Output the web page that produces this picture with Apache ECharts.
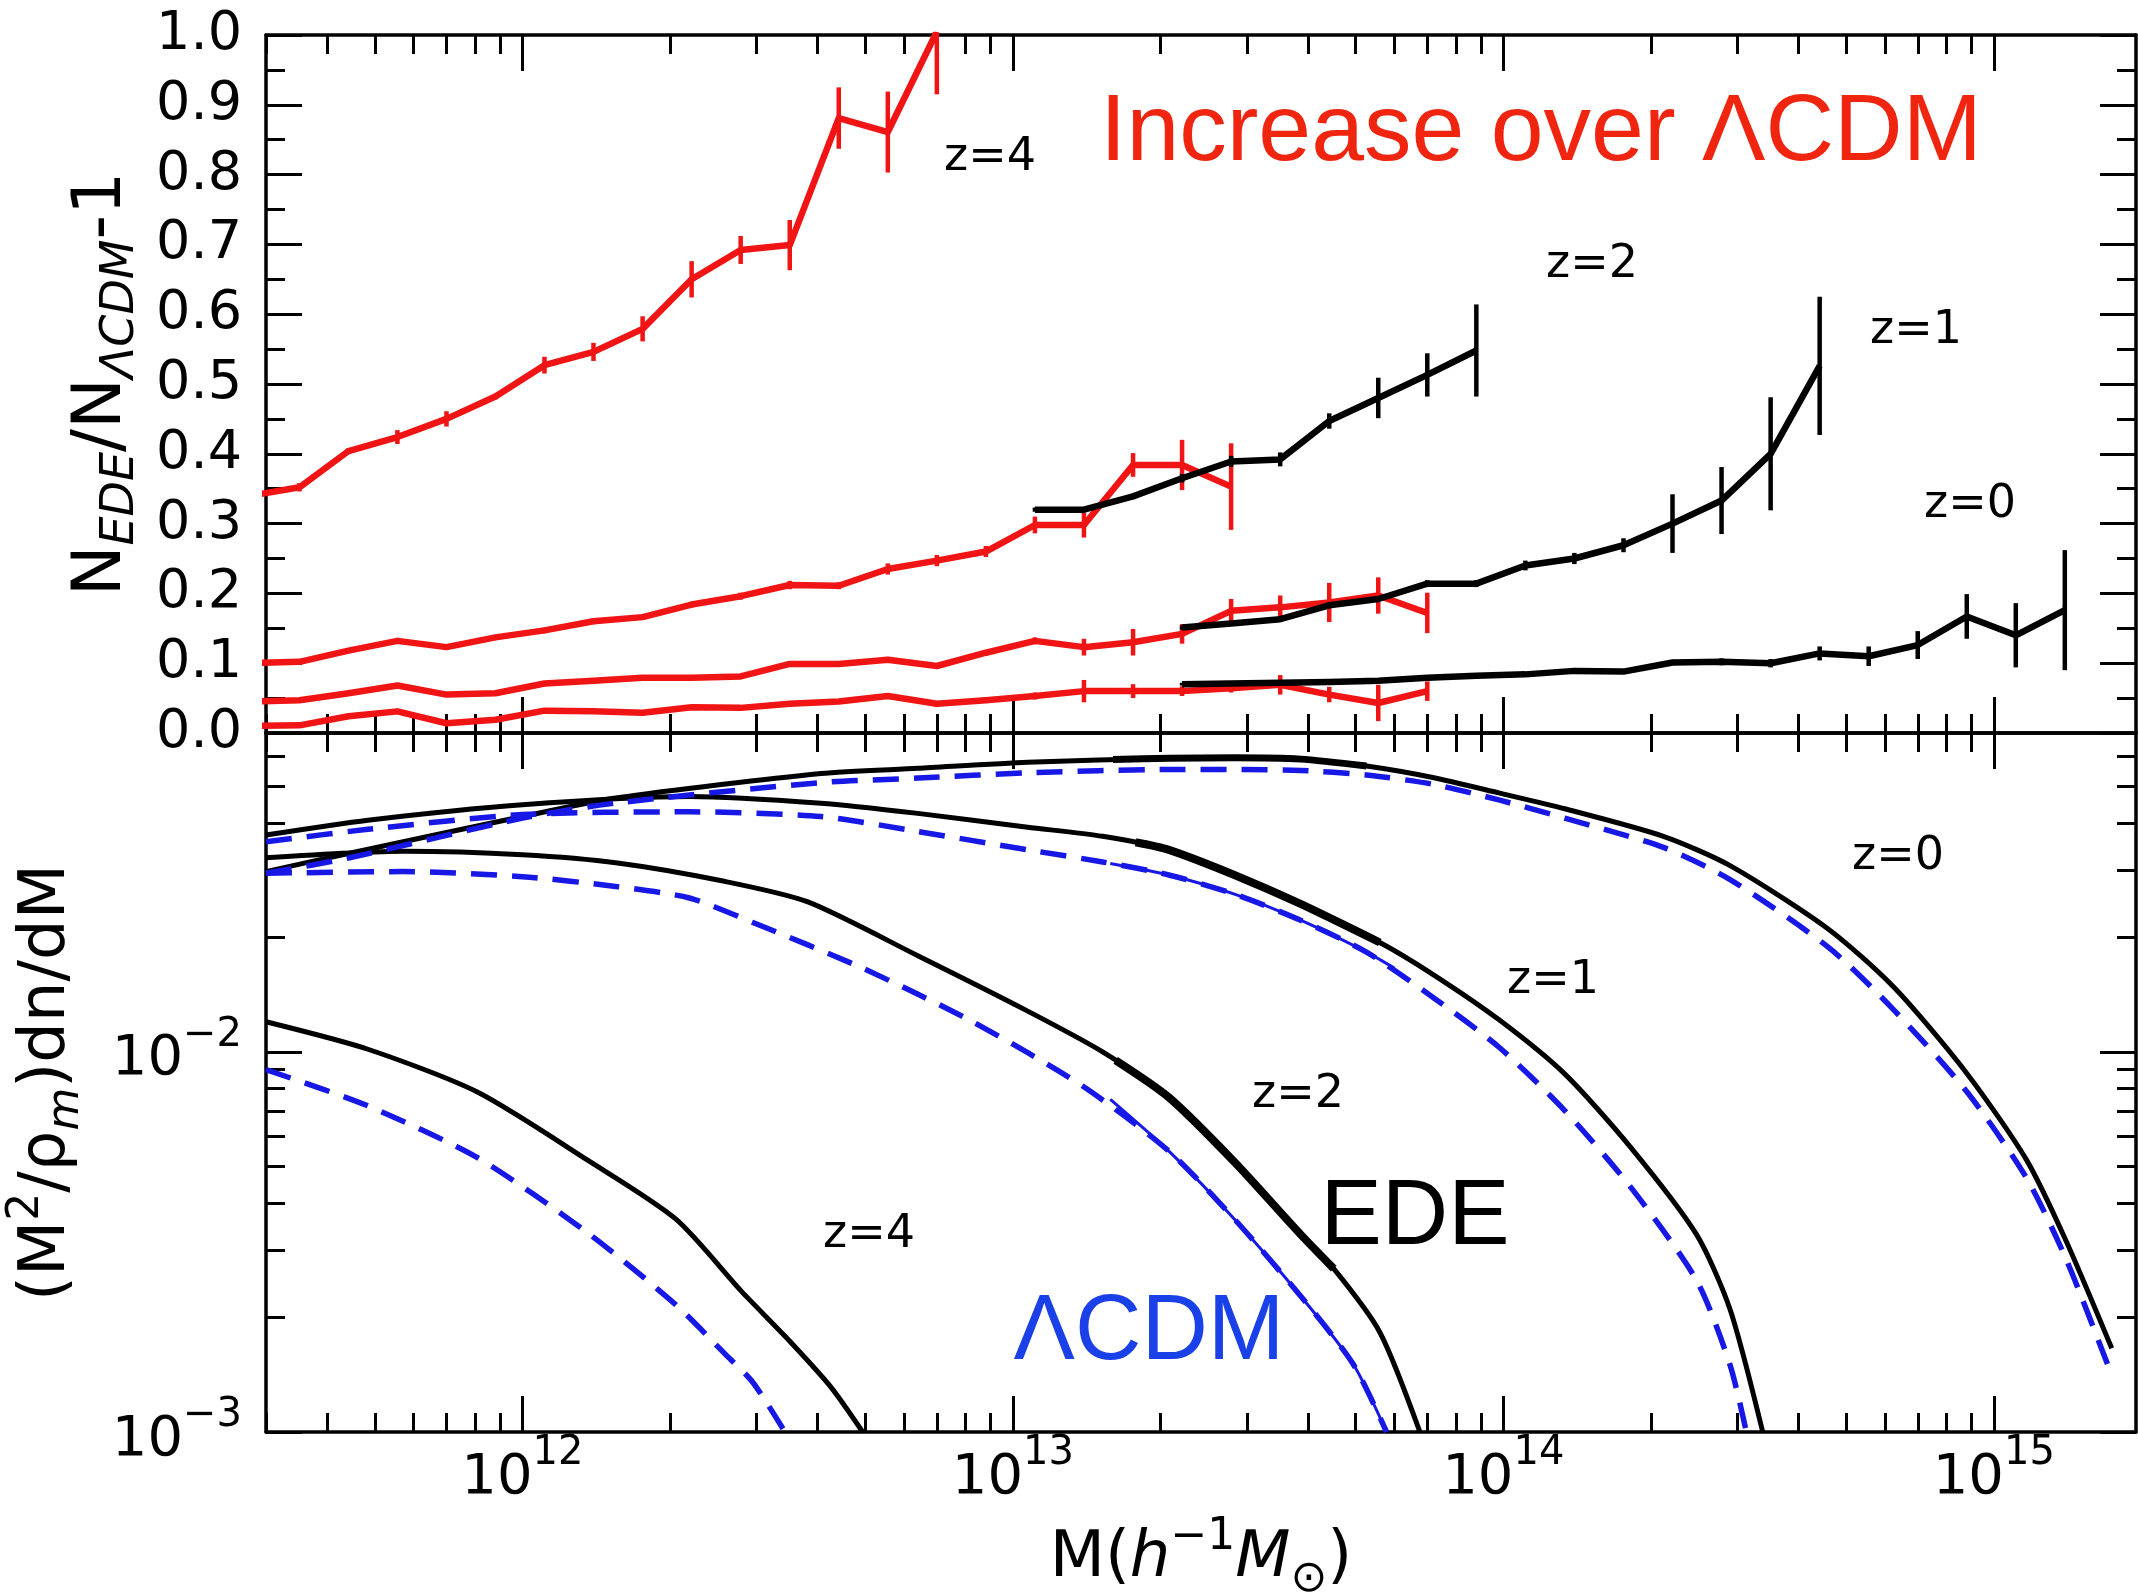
<!DOCTYPE html>
<html><head><meta charset="utf-8">
<script src="https://cdn.jsdelivr.net/npm/echarts@6.0.0/dist/echarts.min.js"></script>
<style>html,body{margin:0;padding:0;background:#fff;}#c{width:2138px;height:1595px;}</style>
</head><body><div id="c"></div><script>
// ---------------- axis ranges / ticks ----------------
const XMIN = 3.0e11, XMAX = 1.95e15;
const X_MAJOR = [1e12, 1e13, 1e14, 1e15];
const X_MINOR = [3e11,4e11,5e11,6e11,7e11,8e11,9e11,2e12,3e12,4e12,5e12,6e12,7e12,8e12,9e12,2e13,3e13,4e13,5e13,6e13,7e13,8e13,9e13,2e14,3e14,4e14,5e14,6e14,7e14,8e14,9e14];
const YTOP_MIN = 0, YTOP_MAX = 1.0, YTOP_STEP = 0.1;
const YLOW_MIN = 1e-3, YLOW_MAX = 0.069;
const YLOW_MAJOR = [1e-3, 1e-2];
const YLOW_MINOR = [2e-3,3e-3,4e-3,5e-3,6e-3,7e-3,8e-3,9e-3,2e-2,3e-2,4e-2,5e-2,6e-2];

// ---------------- upper panel: N_EDE/N_LCDM - 1 ----------------
const binMass = [2.79e11,3.51e11,4.42e11,5.56e11,7.00e11,8.81e11,1.109e12,1.396e12,1.758e12,2.213e12,2.786e12,3.508e12,4.416e12,5.559e12,6.998e12,8.81e12,1.109e13,1.396e13,1.758e13,2.213e13,2.786e13,3.508e13,4.416e13,5.559e13,6.998e13,8.81e13,1.109e14,1.396e14,1.758e14,2.213e14,2.786e14,3.508e14,4.416e14,5.559e14,6.998e14,8.81e14,1.109e15,1.396e15];

const redZ4Start = 0;
const redZ4 = [0.340,0.352,0.404,0.424,0.450,0.482,0.527,0.546,0.579,0.650,0.692,0.699,0.881,0.861,1.005];
const redZ4Err = [0,0.006,0.004,0.010,0.011,0.004,0.012,0.013,0.018,0.026,0.020,0.036,0.044,0.058,0.090];

const redZ2Start = 0;
const redZ2 = [0.100,0.102,0.118,0.132,0.123,0.137,0.147,0.160,0.166,0.184,0.196,0.212,0.211,0.235,0.247,0.260,0.298,0.298,0.384,0.384,0.353];
const redZ2Err = [0,0.003,0.003,0.003,0.003,0.003,0.004,0.004,0.004,0.004,0.005,0.006,0.005,0.008,0.008,0.008,0.012,0.018,0.017,0.036,0.062];

const redZ1Start = 0;
const redZ1 = [0.045,0.047,0.057,0.068,0.055,0.057,0.071,0.075,0.079,0.079,0.081,0.099,0.099,0.105,0.096,0.115,0.132,0.123,0.130,0.142,0.175,0.180,0.187,0.197,0.172];
const redZ1Err = [0,0.002,0.002,0.002,0.002,0.002,0.002,0.003,0.003,0.003,0.003,0.003,0.003,0.004,0.004,0.004,0.005,0.012,0.019,0.014,0.017,0.017,0.028,0.026,0.029];

const redZ0Start = 0;
const redZ0 = [0.010,0.011,0.024,0.031,0.014,0.019,0.032,0.031,0.029,0.037,0.036,0.042,0.045,0.053,0.042,0.047,0.053,0.060,0.060,0.060,0.064,0.069,0.055,0.043,0.060];
const redZ0Err = [0,0.002,0.002,0.002,0.002,0.002,0.002,0.002,0.002,0.002,0.002,0.003,0.003,0.003,0.004,0.004,0.005,0.016,0.010,0.007,0.006,0.014,0.011,0.026,0.014];

const blkZ2Start = 16;
const blkZ2 = [0.320,0.320,0.339,0.365,0.389,0.392,0.447,0.480,0.513,0.548];
const blkZ2Err = [0.003,0.003,0.004,0.006,0.008,0.010,0.011,0.029,0.031,0.066];

const blkZ1Start = 19;
const blkZ1 = [0.151,0.157,0.163,0.183,0.192,0.214,0.214,0.240,0.250,0.269,0.300,0.333,0.400,0.526];
const blkZ1Err = [0.003,0.003,0.004,0.004,0.004,0.005,0.005,0.007,0.008,0.010,0.042,0.048,0.081,0.099];

const blkZ0Start = 19;
const blkZ0 = [0.070,0.071,0.072,0.073,0.075,0.079,0.082,0.084,0.089,0.088,0.101,0.102,0.100,0.114,0.110,0.126,0.167,0.140,0.176];
const blkZ0Err = [0.002,0.002,0.002,0.002,0.002,0.002,0.003,0.003,0.003,0.003,0.003,0.005,0.006,0.010,0.014,0.020,0.032,0.046,0.086];

// ---------------- lower panel: (M^2/rho_m) dn/dM ----------------
const edeZ0M = [3.0e11,4.44e11,1.0e12,1.563e12,4.06e12,6.40e12,1.072e13,2.08e13,2.83e13,3.86e13,5.26e13,7.18e13,9.79e13,1.334e14,2.12e14,2.90e14,4.61e14,6.28e14,8.83e14,1.167e15,1.406e15,1.74e15];
const edeZ0 = [0.0298,0.0333,0.0416,0.0466,0.0540,0.0557,0.0578,0.0592,0.0594,0.0589,0.0565,0.0527,0.0480,0.0436,0.0369,0.0309,0.0210,0.01472,0.00875,0.00519,0.00317,0.00166];
const lcdmZ0M = [3.0e11,4.44e11,1.0e12,1.563e12,4.06e12,6.40e12,1.072e13,2.08e13,2.83e13,3.86e13,5.26e13,7.18e13,9.79e13,1.334e14,2.12e14,2.90e14,4.61e14,6.28e14,8.83e14,1.167e15,1.406e15,1.74e15];
const lcdmZ0 = [0.0295,0.0324,0.0412,0.0452,0.0511,0.0525,0.0542,0.0553,0.0553,0.0550,0.0535,0.0506,0.0460,0.0412,0.0345,0.0284,0.0188,0.01282,0.00783,0.00465,0.00284,0.00141];

const edeZ1M = [3.0e11,4.84e11,1.0e12,2.19e12,4.06e12,6.40e12,1.072e13,1.524e13,2.08e13,2.83e13,3.86e13,5.60e13,7.18e13,9.79e13,1.334e14,1.82e14,2.48e14,2.90e14,3.38e14];
const edeZ1 = [0.0372,0.0407,0.0447,0.0470,0.0451,0.0424,0.0390,0.0369,0.0340,0.0292,0.0245,0.0194,0.0160,0.01216,0.00875,0.00560,0.00330,0.00210,0.00100];
const lcdmZ1M = [3.0e11,4.84e11,1.0e12,2.19e12,4.06e12,6.40e12,1.072e13,1.524e13,2.08e13,2.83e13,3.86e13,5.26e13,7.18e13,9.79e13,1.334e14,1.82e14,2.48e14,2.90e14,3.13e14];
const lcdmZ1 = [0.0357,0.0385,0.0421,0.0428,0.0416,0.0380,0.0340,0.0316,0.0292,0.0260,0.0222,0.0183,0.01393,0.0103,0.00701,0.00440,0.00250,0.00150,0.00100];

const edeZ2M = [3.0e11,5.71e11,1.0e12,1.563e12,2.58e12,3.82e12,6.40e12,1.072e13,1.524e13,2.08e13,2.83e13,3.86e13,4.51e13,5.60e13,6.76e13];
const edeZ2 = [0.0324,0.0337,0.0330,0.0314,0.0281,0.0248,0.0179,0.0128,0.0100,0.00759,0.00513,0.00331,0.00269,0.00183,0.00100];
const lcdmZ2M = [3.0e11,5.71e11,1.0e12,1.563e12,2.19e12,2.95e12,4.94e12,8.28e12,1.387e13,2.08e13,2.83e13,3.86e13,4.94e13,5.78e13];
const lcdmZ2 = [0.0295,0.0298,0.0289,0.0272,0.0254,0.0219,0.0166,0.0120,0.00813,0.00548,0.00363,0.00228,0.00151,0.00100];

const edeZ4M = [3.0e11,4.84e11,8.11e11,1.358e12,2.056e12,2.80e12,3.44e12,4.24e12,4.94e12];
const edeZ4 = [0.0120,0.01016,0.00783,0.00519,0.00363,0.00234,0.00178,0.00132,0.00100];
const lcdmZ4M = [3.0e11,4.84e11,8.11e11,1.358e12,2.056e12,2.594e12,2.951e12,3.43e12];
const lcdmZ4 = [0.00898,0.00721,0.00526,0.00334,0.00216,0.00160,0.00135,0.00100];

// simulation overlays
const simEdeZ0M = [1.6e13,2.08e13,2.83e13,3.86e13,5.26e13];
const simEdeZ0 = [0.0588,0.0592,0.0594,0.0589,0.0565];
const simEdeZ1M = [1.78e13,2.08e13,2.83e13,3.86e13,5.60e13];
const simEdeZ1 = [0.0356,0.0340,0.0292,0.0245,0.0194];
const simEdeZ2M = [1.62e13,2.08e13,2.83e13,3.86e13,4.51e13];
const simEdeZ2 = [0.0095,0.00759,0.00513,0.00331,0.00269];
const simLcdmZ1M = [1.58e13,2.08e13,2.83e13,3.86e13,5.26e13,6.0e13];
const simLcdmZ1 = [0.0313,0.0292,0.0260,0.0222,0.0183,0.0166];
const simLcdmZ2M = [1.58e13,2.08e13,2.83e13,3.86e13,4.94e13,5.78e13];
const simLcdmZ2 = [0.0075,0.00548,0.00363,0.00228,0.00151,0.00100];

// ---------------- styling ----------------
const FONT = "'DejaVu Sans', sans-serif";
const SANS = "'Liberation Sans', Arial, sans-serif";
const RED = '#f01414', BLACK = '#000000', BLUE = '#1818e6';
const TICK = {color:'#000', width:3};
const SPINE = {color:'#000', width:3.5};

function pairs(xs, ys){ return ys.map((v,i)=>[xs[i], v]); }
function line(xs, ys, color, width, xi, yi, type, z, smooth){
  return {type:'line', xAxisIndex:xi, yAxisIndex:yi, data:pairs(xs,ys), showSymbol:false, symbol:'none',
    clip:true, silent:true, z:z||2, smooth:smooth||false,
    lineStyle:{color, width, type:type||'solid', cap:'butt', join:'round'}};
}
function errbars(xs, ys, es, color, xi, yi, z){
  return {type:'custom', xAxisIndex:xi, yAxisIndex:yi, clip:true, silent:true, z:z||3,
    data: ys.map((v,i)=>[xs[i], v, es[i]]), encode:{x:0, y:1},
    renderItem:function(params, api){
      const x = api.value(0), y = api.value(1), e = api.value(2);
      if (!(e > 0)) return null;
      const a = api.coord([x, y - e]), b = api.coord([x, y + e]);
      return {type:'line', shape:{x1:a[0], y1:a[1], x2:b[0], y2:b[1]}, style:{stroke:color, lineWidth:4.5}};
    }};
}
function binsFrom(start, vals){ return binMass.slice(start, start + vals.length); }

function logX(grid, pos, vals, len, extra){
  return Object.assign({
    type:'log', logBase:10, gridIndex:grid, position:pos, min:XMIN, max:XMAX,
    axisLine:{show:false, onZero:false}, splitLine:{show:false},
    axisTick:{show:true, inside:true, length:len, customValues:vals, lineStyle:TICK},
    axisLabel:{show:false}
  }, extra||{});
}
function logY(grid, pos, vals, len, extra){
  return Object.assign({
    type:'log', logBase:10, gridIndex:grid, position:pos, min:YLOW_MIN, max:YLOW_MAX,
    axisLine:{show:false, onZero:false}, splitLine:{show:false},
    axisTick:{show:true, inside:true, length:len, customValues:vals, lineStyle:TICK},
    axisLabel:{show:false}
  }, extra||{});
}
function linY(pos, extra){
  return Object.assign({
    type:'value', gridIndex:0, position:pos, min:YTOP_MIN, max:YTOP_MAX, interval:YTOP_STEP,
    axisLine:{show:true, onZero:false, lineStyle:SPINE}, splitLine:{show:false},
    axisTick:{show:true, inside:true, length:36, lineStyle:TICK},
    minorTick:{show:true, splitNumber:2, length:19, lineStyle:TICK}, minorSplitLine:{show:false},
    axisLabel:{show:false}
  }, extra||{});
}
const spine = {axisLine:{show:true, onZero:false, lineStyle:SPINE}};
const expRich = {
  b:{fontSize:56, fontFamily:FONT, color:'#000', verticalAlign:'bottom', lineHeight:72},
  s:{fontSize:40, fontFamily:FONT, color:'#000', verticalAlign:'top', lineHeight:72}
};
function expFmt(v){ const e = Math.round(Math.log10(v)); return '{b|10}{s|' + String(e).replace('-', '\u2212') + '}'; }

const DASH = [26, 15];
const SM = 0.25;
const option = {
  animation:false,
  backgroundColor:'#ffffff',
  grid:[
    {left:266, top:35, width:1870, height:698, outerBoundsMode:'none', containLabel:false},
    {left:266, top:733, width:1870, height:699, outerBoundsMode:'none', containLabel:false}
  ],
  xAxis:[
    logX(0,'bottom',X_MAJOR,36,spine),
    logX(0,'bottom',X_MINOR,19),
    logX(0,'top',X_MAJOR,36,spine),
    logX(0,'top',X_MINOR,19),
    logX(1,'top',X_MAJOR,36,spine),
    logX(1,'top',X_MINOR,19),
    logX(1,'bottom',X_MAJOR,36,{
      axisLine:{show:true, onZero:false, lineStyle:SPINE},
      axisLabel:{show:true, customValues:X_MAJOR, formatter:expFmt, rich:expRich, margin:2},
      name:'{n|M(}{i|h}{p|\u22121}{i|M}{s|\u2299}{n|)}', nameLocation:'middle', nameGap:84,
      nameTextStyle:{rich:{
        n:{fontSize:64, fontFamily:FONT, color:'#000', verticalAlign:'middle', lineHeight:86},
        i:{fontSize:64, fontFamily:FONT, fontStyle:'italic', color:'#000', verticalAlign:'middle', lineHeight:86},
        p:{fontSize:44, fontFamily:FONT, color:'#000', verticalAlign:'top', lineHeight:86},
        s:{fontSize:44, fontFamily:FONT, color:'#000', verticalAlign:'bottom', lineHeight:86}
      }}
    }),
    logX(1,'bottom',X_MINOR,19)
  ],
  yAxis:[
    linY('left', {
      axisLabel:{show:true, formatter:v=>v.toFixed(1), fontSize:54, fontFamily:FONT, color:'#000', margin:24},
      name:'{n|N}{s|EDE}{n|/N}{s|\u039BCDM}{n|-1}', nameLocation:'middle', nameGap:122, nameRotate:90,
      nameTextStyle:{rich:{
        n:{fontSize:68, fontFamily:FONT, color:'#000', verticalAlign:'middle', lineHeight:84},
        s:{fontSize:46, fontFamily:FONT, fontStyle:'italic', color:'#000', verticalAlign:'bottom', lineHeight:84}
      }}
    }),
    linY('right'),
    logY(1,'left',YLOW_MAJOR,36,{
      axisLine:{show:true, onZero:false, lineStyle:SPINE},
      axisLabel:{show:true, customValues:YLOW_MAJOR, formatter:expFmt, rich:expRich, margin:24},
      name:'{n|(M}{p|2}{n|/\u03C1}{s|m}{n|)dn/dM}', nameLocation:'middle', nameGap:177, nameRotate:90,
      nameTextStyle:{rich:{
        n:{fontSize:64, fontFamily:FONT, color:'#000', verticalAlign:'middle', lineHeight:84},
        p:{fontSize:44, fontFamily:FONT, color:'#000', verticalAlign:'top', lineHeight:84},
        s:{fontSize:44, fontFamily:FONT, fontStyle:'italic', color:'#000', verticalAlign:'bottom', lineHeight:84}
      }}
    }),
    logY(1,'left',YLOW_MINOR,19),
    logY(1,'right',YLOW_MAJOR,36,spine),
    logY(1,'right',YLOW_MINOR,19)
  ],
  series:[
    // upper panel (xAxis 0, yAxis 0)
    line(binsFrom(redZ4Start,redZ4), redZ4, RED, 6.5, 0, 0),
    errbars(binsFrom(redZ4Start,redZ4), redZ4, redZ4Err, RED, 0, 0),
    line(binsFrom(redZ2Start,redZ2), redZ2, RED, 6.5, 0, 0),
    errbars(binsFrom(redZ2Start,redZ2), redZ2, redZ2Err, RED, 0, 0),
    line(binsFrom(redZ1Start,redZ1), redZ1, RED, 6.5, 0, 0),
    errbars(binsFrom(redZ1Start,redZ1), redZ1, redZ1Err, RED, 0, 0),
    line(binsFrom(redZ0Start,redZ0), redZ0, RED, 6.5, 0, 0),
    errbars(binsFrom(redZ0Start,redZ0), redZ0, redZ0Err, RED, 0, 0),
    line(binsFrom(blkZ2Start,blkZ2), blkZ2, BLACK, 6.5, 0, 0, 'solid', 4),
    errbars(binsFrom(blkZ2Start,blkZ2), blkZ2, blkZ2Err, BLACK, 0, 0, 5),
    line(binsFrom(blkZ1Start,blkZ1), blkZ1, BLACK, 6.5, 0, 0, 'solid', 4),
    errbars(binsFrom(blkZ1Start,blkZ1), blkZ1, blkZ1Err, BLACK, 0, 0, 5),
    line(binsFrom(blkZ0Start,blkZ0), blkZ0, BLACK, 6.5, 0, 0, 'solid', 4),
    errbars(binsFrom(blkZ0Start,blkZ0), blkZ0, blkZ0Err, BLACK, 0, 0, 5),
    // lower panel (xAxis 6, yAxis 2)
    line(edeZ0M, edeZ0, BLACK, 5, 6, 2, 'solid', 2, SM),
    line(edeZ1M, edeZ1, BLACK, 5, 6, 2, 'solid', 2, SM),
    line(edeZ2M, edeZ2, BLACK, 5, 6, 2, 'solid', 2, SM),
    line(edeZ4M, edeZ4, BLACK, 5, 6, 2, 'solid', 2, SM),
    line(simLcdmZ1M, simLcdmZ1, BLUE, 3, 6, 2, 'solid', 3, SM),
    line(simLcdmZ2M, simLcdmZ2, BLUE, 3, 6, 2, 'solid', 3, SM),
    line(lcdmZ0M, lcdmZ0, BLUE, 5.5, 6, 2, DASH, 4, SM),
    line(lcdmZ1M, lcdmZ1, BLUE, 5.5, 6, 2, DASH, 4, SM),
    line(lcdmZ2M, lcdmZ2, BLUE, 5.5, 6, 2, DASH, 4, SM),
    line(lcdmZ4M, lcdmZ4, BLUE, 5.5, 6, 2, DASH, 4, SM),
    line(simEdeZ0M, simEdeZ0, BLACK, 7, 6, 2, 'solid', 5, SM),
    line(simEdeZ1M, simEdeZ1, BLACK, 8, 6, 2, 'solid', 5, SM),
    line(simEdeZ2M, simEdeZ2, BLACK, 8, 6, 2, 'solid', 5, SM)
  ],
  graphic:[
    {type:'text', x:1100, y:134, z:100, style:{text:'Increase over \u039BCDM', fontSize:95, fontFamily:SANS, fill:'#f0250f', align:'left', verticalAlign:'middle', textAlign:'left', textVerticalAlign:'middle'}},
    {type:'text', x:990, y:158, z:100, style:{text:'z=4', fontSize:46, fontFamily:FONT, fill:'#000', align:'center', verticalAlign:'middle', textAlign:'center', textVerticalAlign:'middle'}},
    {type:'text', x:1592, y:265, z:100, style:{text:'z=2', fontSize:46, fontFamily:FONT, fill:'#000', align:'center', verticalAlign:'middle', textAlign:'center', textVerticalAlign:'middle'}},
    {type:'text', x:1916, y:331, z:100, style:{text:'z=1', fontSize:46, fontFamily:FONT, fill:'#000', align:'center', verticalAlign:'middle', textAlign:'center', textVerticalAlign:'middle'}},
    {type:'text', x:1970, y:505, z:100, style:{text:'z=0', fontSize:46, fontFamily:FONT, fill:'#000', align:'center', verticalAlign:'middle', textAlign:'center', textVerticalAlign:'middle'}},
    {type:'text', x:1898, y:857, z:100, style:{text:'z=0', fontSize:46, fontFamily:FONT, fill:'#000', align:'center', verticalAlign:'middle', textAlign:'center', textVerticalAlign:'middle'}},
    {type:'text', x:1553, y:981, z:100, style:{text:'z=1', fontSize:46, fontFamily:FONT, fill:'#000', align:'center', verticalAlign:'middle', textAlign:'center', textVerticalAlign:'middle'}},
    {type:'text', x:1298, y:1095, z:100, style:{text:'z=2', fontSize:46, fontFamily:FONT, fill:'#000', align:'center', verticalAlign:'middle', textAlign:'center', textVerticalAlign:'middle'}},
    {type:'text', x:869, y:1235, z:100, style:{text:'z=4', fontSize:46, fontFamily:FONT, fill:'#000', align:'center', verticalAlign:'middle', textAlign:'center', textVerticalAlign:'middle'}},
    {type:'text', x:1415, y:1219, z:100, style:{text:'EDE', fontSize:92, fontFamily:SANS, fill:'#000', align:'center', verticalAlign:'middle', textAlign:'center', textVerticalAlign:'middle'}},
    {type:'text', x:1149, y:1334, z:100, style:{text:'\u039BCDM', fontSize:92, fontFamily:SANS, fill:'#1a40e8', align:'center', verticalAlign:'middle', textAlign:'center', textVerticalAlign:'middle'}}
  ]
};
const chart = echarts.init(document.getElementById('c'), null, {renderer:'canvas', width:2138, height:1595});
chart.setOption(option);
</script></body></html>
